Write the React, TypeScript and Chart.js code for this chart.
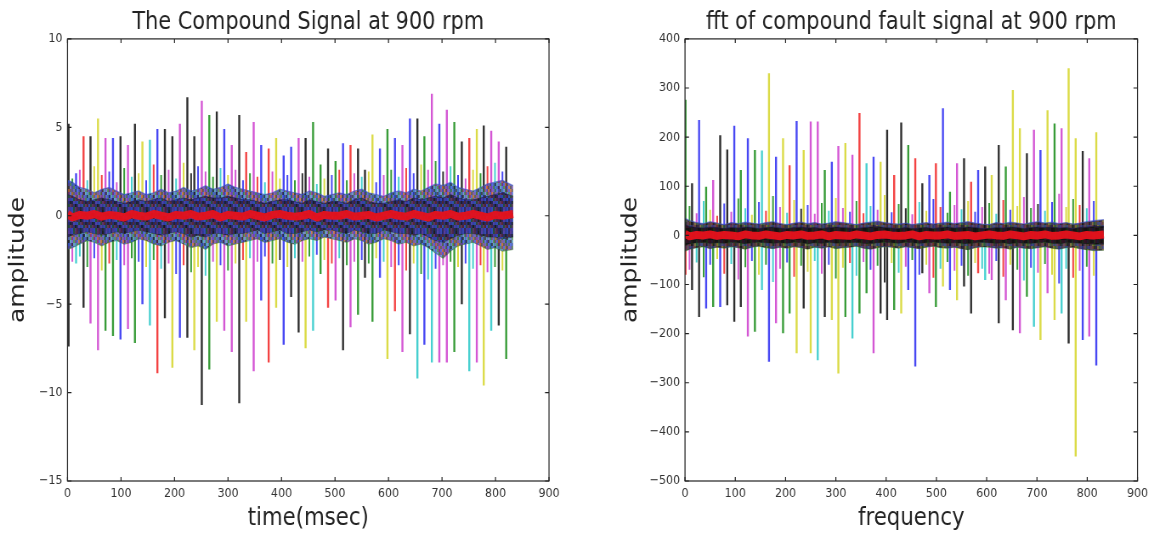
import React, { useEffect, useRef } from "react";
import { Chart, registerables } from "chart.js";
Chart.register(...registerables);

// ---------- tick labels ----------
const xTicks = [0, 100, 200, 300, 400, 500, 600, 700, 800, 900];
const ampTicksLeft = [-15, -10, -5, 0, 5, 10];
const ampTicksRight = [-500, -400, -300, -200, -100, 0, 100, 200, 300, 400];

// ---------- left: compound signal (time, msec) ----------
const spikeTimes = [2,16,30,43,57,71,85,99,113,126,140,154,168,182,196,210,224,237,251,265,279,293,307,321,334,348,362,376,390,404,418,432,445,459,473,487,501,515,529,543,556,570,584,598,612,626,640,654,667,681,695,709,723,737,751,765,778,792,806,820];
const signalPeakUp = [5.2,2.4,4.5,4.5,5.5,4.4,4.4,4.5,4.0,5.2, 4.2,4.3,4.9,4.9,4.5,5.2,6.7,4.5,6.5,5.7, 5.9,4.9,4.0,5.7,3.6,5.3,4.0,3.8,4.4,3.4, 3.9,4.4,4.4,5.3,2.9,3.8,3.1,4.1,4.0,3.8, 2.6,4.6,3.8,4.9,4.4,4.0,5.5,5.5,4.5,6.9, 5.2,6.0,5.3,4.2,4.4,4.9,5.1,4.8,4.2,3.9];
const signalPeakDown = [-7.4,-2.7,-5.2,-6.1,-7.6,-6.5,-6.8,-7.0,-6.4,-7.2, -5.0,-6.2,-8.9,-5.8,-8.6,-6.9,-6.9,-7.6,-10.7,-8.7, -6.0,-6.5,-7.7,-10.6,-6.0,-8.8,-4.8,-8.3,-5.2,-7.3, -4.6,-6.6,-7.5,-6.5,-3.3,-5.2,-4.8,-7.6,-6.3,-5.6, -3.5,-6.0,-3.5,-8.1,-5.4,-7.7,-6.7,-9.2,-7.3,-8.3, -8.3,-8.3,-7.7,-5.0,-8.8,-8.3,-9.6,-6.5,-6.2,-8.1];
const signalUpColor = "kbrkymbkmk" + "ycbkkmkkmg" + "kbmkrmbryb" + "bmkggkgbrk" + "kybgbmbkgm" + "bmgkrykmmk";
const signalDownColor = "kckmmggbmg" + "bcrkybkykg" + "ymmkymbryb" + "kkycgrmkmg" + "kgbyrmkcbc" + "mmgkcmyckg";

const midPositions = [9,23,37,50,64,78,92,106,120,133,147,161,175,189,203,217,231,244,258,272,286,300,314,328,341,355,369,383,397,411,425,439,452,466,480,494,508,522,536,550,563,577,591,605,619,633,647,661,674,688,702,716,730,744,758,772,785,799,813];
const signalMinorUp = [2.1,2.6,2.0,2.8,2.3,2.5,1.9,2.7,2.2,2.4, 2.0,2.9,2.3,2.6,2.1,3.0,2.4,2.8,2.5,2.2, 2.7,2.3,2.6,2.0,2.4,2.2,1.9,2.5,2.1,2.3, 2.0,2.4,2.2,1.8,2.1,2.3,2.6,2.0,2.4,2.2, 2.5,1.9,2.3,2.6,2.2,2.7,2.4,2.9,2.6,3.1, 2.5,2.8,2.3,2.1,2.6,2.4,2.8,3.0,2.5];
const signalMinorDown = [-2.6,-2.3,-2.9,-2.4,-3.1,-2.7,-2.5,-2.8,-2.4,-2.6, -2.9,-2.5,-3.0,-2.7,-3.3,-2.8,-3.2,-2.9,-3.4,-2.6, -2.8,-3.1,-2.7,-2.5,-2.4,-2.6,-2.3,-2.7,-2.5,-2.9, -2.4,-2.6,-2.3,-2.2,-2.5,-2.7,-2.4,-2.8,-2.6,-2.5, -2.7,-2.4,-2.6,-2.9,-2.8,-3.1,-2.7,-3.3,-3.6,-3.0, -2.8,-2.6,-2.9,-2.7,-3.0,-2.8,-3.2,-2.9,-3.1];
const minorUpColor = "gmcyrbmgcy" + "brgmcykbmg" + "cymbgrcmyb" + "gkmcybrgmc" + "ybmgcrbymg" + "kcbmygrcb";
const minorDownColor = "mcgbyrcmgb" + "ygcmbrgycm" + "bgyrcmbgky" + "cmgbyrcgmb" + "gycmbrygcb" + "mgybcrmgy";

const bandPositions = [0, ...midPositions, 833];
const signalBandUp = [2.0,1.9,1.6,1.5,1.3,1.5,1.6,1.4,1.2,1.3,1.4, 1.2,1.3,1.5,1.3,1.4,1.6,1.4,1.5,1.7,1.5, 1.6,1.8,1.6,1.5,1.4,1.3,1.2,1.3,1.5,1.4, 1.3,1.2,1.4,1.3,1.1,1.2,1.3,1.2,1.4,1.5, 1.3,1.2,1.1,1.3,1.4,1.3,1.5,1.4,1.6,1.8, 1.7,1.9,1.6,1.5,1.4,1.6,1.8,1.9,2.0,1.7];
const signalBandDown = [-1.9,-1.8,-1.6,-1.4,-1.5,-1.7,-1.5,-1.4,-1.6,-1.5,-1.3, -1.4,-1.6,-1.7,-1.5,-1.4,-1.6,-1.8,-1.7,-1.9,-1.6, -1.5,-1.7,-1.6,-1.5,-1.4,-1.3,-1.5,-1.4,-1.3,-1.5, -1.6,-1.4,-1.3,-1.4,-1.2,-1.3,-1.4,-1.5,-1.3,-1.4, -1.6,-1.5,-1.3,-1.4,-1.6,-1.5,-1.7,-1.6,-1.8,-2.1, -2.4,-2.0,-1.7,-1.6,-1.5,-1.7,-1.9,-1.8,-2.0,-1.9];
const signalCoreUp = [1.2,1.1,0.9,0.8,0.9,1.0,0.9,0.8,0.7,0.8,0.9, 0.8,0.9,1.0,0.8,0.9,1.0,0.9,1.0,1.1,1.0, 1.0,1.1,1.0,0.9,0.9,0.8,0.7,0.8,0.9,0.9, 0.8,0.7,0.9,0.8,0.7,0.8,0.8,0.7,0.9,1.0, 0.8,0.7,0.7,0.8,0.9,0.8,1.0,0.9,1.0,1.1, 1.0,1.2,1.0,0.9,0.9,1.0,1.1,1.2,1.3,1.1];
const signalCoreDown = [-1.2,-1.1,-1.0,-0.9,-1.0,-1.1,-1.0,-0.9,-1.0,-0.9,-0.8, -0.9,-1.0,-1.1,-1.0,-0.9,-1.0,-1.2,-1.1,-1.2,-1.0, -1.0,-1.1,-1.0,-1.0,-0.9,-0.8,-1.0,-0.9,-0.8,-1.0, -1.0,-0.9,-0.8,-0.9,-0.8,-0.8,-0.9,-1.0,-0.8,-0.9, -1.0,-1.0,-0.8,-0.9,-1.0,-1.0,-1.1,-1.0,-1.2,-1.4, -1.5,-1.3,-1.1,-1.0,-1.0,-1.1,-1.2,-1.2,-1.3,-1.2];
const signalRed = [0.1,-0.1,0.05,0.0,0.1,-0.05,0.05,0.0,-0.1,0.1,0.0, -0.05,0.1,0.0,-0.1,0.05,0.0,0.1,-0.05,0.0,0.1, -0.1,0.05,0.0,-0.05,0.1,0.0,-0.1,0.05,0.1,0.0, -0.05,0.0,0.1,-0.1,0.05,0.0,0.0,0.1,-0.05,0.0, 0.05,-0.1,0.0,0.1,0.0,-0.05,0.1,0.0,-0.1,0.05, 0.0,0.1,-0.05,0.0,0.1,0.0,-0.1,0.05,0.0,0.1];

// ---------- right: fft (frequency) ----------
const spikeFreqs = [1,14,28,42,56,70,84,98,111,125,139,153,167,181,195,208,222,236,250,264,278,292,305,319,333,347,361,375,389,402,416,430,444,458,472,486,499,513,527,541,555,569,583,597,610,624,638,652,666,680,694,707,721,735,749,763,777,791,804,818];
const fftPeakUp = [276,106,235,99,113,204,175,223,133,198, 174,173,330,160,198,143,233,174,232,232, 133,150,182,188,164,249,147,160,150,215, 123,230,184,157,106,123,147,259,89,147, 157,109,133,140,123,184,140,296,218,167, 215,174,255,228,218,340,198,172,157,210];
const fftPeakDown = [-80,-111,-166,-149,-146,-146,-142,-176,-146,-206, -196,-111,-257,-179,-199,-159,-240,-149,-240,-254, -166,-172,-281,-166,-210,-159,-118,-240,-159,-172, -152,-159,-111,-267,-77,-118,-146,-104,-111,-132, -104,-159,-77,-91,-91,-179,-132,-193,-199,-125, -186,-213,-118,-172,-159,-220,-450,-213,-206,-265];
const fftUpColor = "gkbgmkkbgb" + "gcybyrbymm" + "gbmymrcbyk" + "rkgrkbrbgm" + "krbkykgyyk" + "mbygmyykmy";
const fftDownColor = "rkkbgbkkkm" + "gcbmggykyc" + "kyygcggmkk" + "gybbkmgyby" + "kkrcmkmkmg" + "cymyckybmb";
const fftMinorUp = [60,45,70,52,40,65,48,75,55,42, 68,50,80,58,46,72,54,62,44,66, 50,76,56,48,70,45,60,52,82,47, 64,55,43,68,50,74,58,46,62,53, 70,48,58,66,44,72,52,60,78,56, 64,50,68,85,58,74,62,55,70];
const fftMinorDown = [-70,-55,-85,-60,-48,-78,-58,-90,-65,-52, -80,-60,-95,-68,-55,-84,-62,-74,-52,-78, -60,-88,-66,-56,-82,-54,-70,-62,-96,-56, -76,-64,-50,-80,-60,-86,-68,-54,-72,-62, -82,-56,-68,-78,-52,-84,-60,-70,-92,-66, -76,-58,-80,-98,-68,-86,-72,-64,-82];
const fftBandUp = [35,30,26,24,28,25,22,26,24,27,25, 23,26,28,24,22,25,27,24,26,23, 25,28,26,24,22,25,27,29,26,24, 23,25,22,24,26,23,25,27,24,26, 28,25,23,22,26,24,27,25,23,26, 28,25,27,24,26,23,25,28,30,32];
const fftBandDown = [-32,-28,-25,-23,-27,-24,-26,-23,-25,-28,-24, -22,-25,-27,-24,-26,-23,-25,-28,-24,-26, -23,-27,-25,-24,-22,-26,-28,-25,-23,-24, -26,-23,-25,-27,-24,-22,-25,-26,-24,-27, -29,-25,-23,-24,-26,-25,-28,-24,-26,-27, -25,-23,-26,-28,-25,-24,-27,-29,-31,-30];
const fftCoreUp = [22,18,16,15,17,16,14,16,15,17,16, 14,16,17,15,14,16,17,15,16,14, 16,17,16,15,14,16,17,18,16,15, 14,16,14,15,16,14,16,17,15,16, 17,16,14,14,16,15,17,16,14,16, 17,16,17,15,16,14,16,17,18,19];
const fftCoreDown = [-20,-17,-15,-14,-16,-15,-16,-14,-15,-17,-15, -14,-15,-16,-15,-16,-14,-15,-17,-15,-16, -14,-16,-15,-15,-14,-16,-17,-15,-14,-15, -16,-14,-15,-16,-15,-14,-15,-16,-15,-16, -17,-15,-14,-15,-16,-15,-17,-15,-16,-16, -15,-14,-16,-17,-15,-15,-16,-17,-18,-18];
const fftRed = [3,-2,1,0,2,-1,1,0,-2,2,0, -1,2,0,-2,1,0,2,-1,0,2, -2,1,0,-1,2,0,-2,1,2,0, -1,0,2,-2,1,0,0,2,-1,0, 1,-2,0,2,0,-1,2,0,-2,1, 0,2,-1,0,2,0,-2,1,0,2];

// ---------- styling ----------
const FONT = "DejaVu Sans";
const INW = 679;
const K = 577 / INW; // horizontal squeeze of the reference picture
const COLORS: Record<string, string> = {
  b: "rgba(20,20,240,0.78)",
  g: "rgba(0,128,0,0.78)",
  r: "rgba(240,20,20,0.8)",
  c: "rgba(0,190,190,0.72)",
  m: "rgba(190,0,190,0.66)",
  y: "rgba(205,205,0,0.72)",
  k: "rgba(0,0,0,0.82)",
};

// texture swatches for the dense overlapped traces near zero
const leftBandSwatch = ["#2f46c8", "#1c1c34", "#6a3aa8", "#2a7a3a", "#3050d8", "#b85a30", "#3a8ab0", "#4a3cb0", "#7a2c6c", "#203c98", "#3a3a3a", "#5a6ad0", "#2a5a2a"];
const leftCoreSwatch = ["#1e2058", "#2c34a0", "#1a4a2a", "#4a1c30", "#181818", "#4a34a0", "#2a44b8", "#5a2a5a", "#26266a"];
const rightBandSwatch = ["#2c1c2c", "#1f4a22", "#2a2a66", "#4c2040", "#141414", "#6a5a20", "#3a3a3a", "#22306a", "#502a20"];
const rightCoreSwatch = ["#0e0e0e", "#221616", "#16162e", "#2c0e20", "#1a2a14", "#101010"];

function makeTexture(colors: string[], alpha: number) {
  const cw = 2, ch = 3, nx = 13, ny = 7;
  const c = document.createElement("canvas");
  c.width = cw * nx;
  c.height = ch * ny;
  const g = c.getContext("2d") as CanvasRenderingContext2D;
  g.globalAlpha = alpha;
  for (let i = 0; i < nx; i++) {
    for (let j = 0; j < ny; j++) {
      g.fillStyle = colors[(i * 5 + j * 3) % colors.length];
      g.fillRect(i * cw, j * ch, cw, ch);
    }
  }
  return g.createPattern(c, "repeat");
}

function spikeSets(xs: number[], ups: number[], downs: number[], upC: string, downC: string, width: number, order: number) {
  const groups: Record<string, any[]> = {};
  xs.forEach((x, i) => {
    const a = upC[i], b = downC[i];
    (groups[a] = groups[a] || []).push({ x, y: 0 }, { x, y: ups[i] }, { x, y: null });
    (groups[b] = groups[b] || []).push({ x, y: 0 }, { x, y: downs[i] }, { x, y: null });
  });
  return Object.keys(groups).map((code) => ({
    type: "line",
    data: groups[code],
    borderColor: COLORS[code],
    borderWidth: width,
    pointRadius: 0,
    spanGaps: false,
    fill: false,
    order,
  }));
}

function pts(xs: number[], ys: number[]) {
  return xs.map((x, i) => ({ x, y: ys[i] }));
}

const fmt = (v: number) => (v < 0 ? "\u2212" + Math.abs(v) : String(v));

const frameTicks = {
  id: "frameTicks",
  afterDraw(chart: any) {
    const { ctx, chartArea: a, scales } = chart;
    ctx.save();
    ctx.strokeStyle = "#222";
    ctx.lineWidth = 1.2;
    ctx.strokeRect(a.left, a.top, a.right - a.left, a.bottom - a.top);
    ctx.beginPath();
    scales.x.ticks.forEach((t: any) => {
      const px = scales.x.getPixelForValue(t.value);
      ctx.moveTo(px, a.bottom); ctx.lineTo(px, a.bottom - 4);
      ctx.moveTo(px, a.top); ctx.lineTo(px, a.top + 4);
    });
    scales.y.ticks.forEach((t: any) => {
      const py = scales.y.getPixelForValue(t.value);
      ctx.moveTo(a.left, py); ctx.lineTo(a.left + 4 / K, py);
      ctx.moveTo(a.right, py); ctx.lineTo(a.right - 4 / K, py);
    });
    ctx.stroke();
    ctx.restore();
  },
};

function buildConfig(p: any) {
  const datasets: any[] = [
    { type: "line", data: pts(bandPositions, p.red), borderColor: "rgba(232,18,28,0.95)", borderWidth: p.redWidth, borderJoinStyle: "round", pointRadius: 0, fill: false, order: 0 },
    { type: "line", data: pts(bandPositions, p.coreUp), borderColor: "rgba(30,30,80,0.6)", borderWidth: 1, pointRadius: 0, fill: "+1", backgroundColor: p.coreFill, order: 1 },
    { type: "line", data: pts(bandPositions, p.coreDown), borderColor: "rgba(30,60,30,0.6)", borderWidth: 1, pointRadius: 0, fill: false, order: 1 },
    { type: "line", data: pts(bandPositions, p.bandUp), borderColor: "rgba(60,80,200,0.6)", borderWidth: 1.2, pointRadius: 0, fill: "+1", backgroundColor: p.bandFill, order: 2 },
    { type: "line", data: pts(bandPositions, p.bandDown), borderColor: "rgba(60,120,60,0.6)", borderWidth: 1.2, pointRadius: 0, fill: false, order: 2 },
    ...spikeSets(midPositions, p.minorUp, p.minorDown, p.minorUpC, p.minorDownC, 2, 3),
    ...spikeSets(p.xs, p.ups, p.downs, p.upC, p.downC, 2.4, 4),
  ];
  return {
    type: "line",
    data: { datasets },
    options: {
      animation: false,
      responsive: false,
      devicePixelRatio: 1,
      events: [],
      layout: { padding: { left: 0, right: p.rightPad, top: 0, bottom: 0 } },
      plugins: {
        legend: { display: false },
        tooltip: { enabled: false },
        title: {
          display: true,
          fullSize: false,
          text: p.title,
          color: "#222",
          font: { family: FONT, size: 24.5, weight: "normal" },
          padding: { top: 8, bottom: 1.5 },
        },
      },
      scales: {
        x: {
          type: "linear",
          min: 0,
          max: 900,
          afterBuildTicks: (s: any) => { s.ticks = xTicks.map((v) => ({ value: v })); },
          afterFit: (s: any) => { s.height = 57; },
          grid: { display: false, drawTicks: false },
          border: { display: false },
          ticks: { autoSkip: false, maxRotation: 0, padding: 5, color: "#333", font: { family: FONT, size: 13 }, callback: (v: any) => fmt(Number(v)) },
          title: { display: true, text: p.xTitle, color: "#222", font: { family: FONT, size: 25 }, padding: { top: 0, bottom: 5 } },
        },
        y: {
          type: "linear",
          min: p.yTicks[0],
          max: p.yTicks[p.yTicks.length - 1],
          afterBuildTicks: (s: any) => { s.ticks = p.yTicks.map((v: number) => ({ value: v })); },
          afterFit: (s: any) => { s.width = p.yWidth; },
          grid: { display: false, drawTicks: false },
          border: { display: false },
          ticks: { autoSkip: false, padding: 5.9, color: "#333", font: { family: FONT, size: 13 }, callback: (v: any) => fmt(Number(v)) },
          title: { display: true, text: "amplitude", color: "#222", font: { family: FONT, size: 25 }, padding: { top: p.yTitlePad, bottom: 0 } },
        },
      },
    },
    plugins: [frameTicks],
  };
}

const leftConfig = () =>
  buildConfig({
    title: "The Compound Signal at 900 rpm",
    xTitle: "time(msec)",
    yTicks: ampTicksLeft,
    yWidth: 67.5 / K,
    rightPad: 28 / K,
    yTitlePad: 18.5 / K - 15,
    xs: spikeTimes, ups: signalPeakUp, downs: signalPeakDown, upC: signalUpColor, downC: signalDownColor,
    minorUp: signalMinorUp, minorDown: signalMinorDown, minorUpC: minorUpColor, minorDownC: minorDownColor,
    bandUp: signalBandUp, bandDown: signalBandDown, coreUp: signalCoreUp, coreDown: signalCoreDown, red: signalRed,
    bandFill: makeTexture(leftBandSwatch, 0.78), coreFill: makeTexture(leftCoreSwatch, 0.85), redWidth: 8,
  });

const rightConfig = () =>
  buildConfig({
    title: "fft of compound fault signal at 900 rpm",
    xTitle: "frequency",
    yTicks: ampTicksRight,
    yWidth: 108 / K,
    rightPad: 16.5 / K,
    yTitlePad: 54 / K - 15,
    xs: spikeFreqs, ups: fftPeakUp, downs: fftPeakDown, upC: fftUpColor, downC: fftDownColor,
    minorUp: fftMinorUp, minorDown: fftMinorDown, minorUpC: minorUpColor, minorDownC: minorDownColor,
    bandUp: fftBandUp, bandDown: fftBandDown, coreUp: fftCoreUp, coreDown: fftCoreDown, red: fftRed,
    bandFill: makeTexture(rightBandSwatch, 0.85), coreFill: makeTexture(rightCoreSwatch, 0.9), redWidth: 8,
  });

export default function App() {
  const ref1 = useRef<HTMLCanvasElement>(null);
  const ref2 = useRef<HTMLCanvasElement>(null);
  useEffect(() => {
    const c1 = new Chart(ref1.current as HTMLCanvasElement, leftConfig() as any);
    const c2 = new Chart(ref2.current as HTMLCanvasElement, rightConfig() as any);
    return () => {
      c1.destroy();
      c2.destroy();
    };
  }, []);
  return (
    <div style={{ position: "absolute", left: 0, top: 0, width: 1154, height: 538, background: "#fff", overflow: "hidden" }}>
      <canvas ref={ref1} width={INW} height={538} style={{ position: "absolute", left: 0, top: 0, width: 577, height: 538 }} />
      <canvas ref={ref2} width={INW} height={538} style={{ position: "absolute", left: 577, top: 0, width: 577, height: 538 }} />
    </div>
  );
}
